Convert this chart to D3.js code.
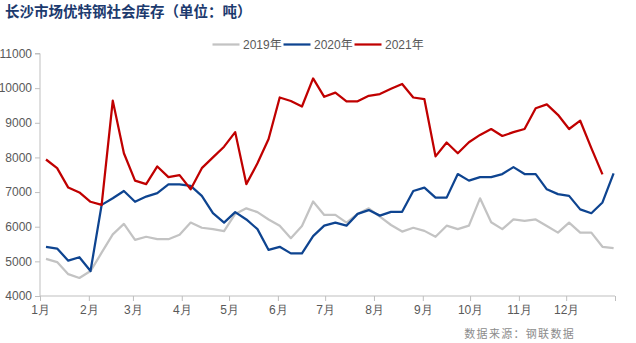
<!DOCTYPE html>
<html><head><meta charset="utf-8">
<script src="https://cdn.jsdelivr.net/npm/d3@7"></script>
<style>
html,body{margin:0;padding:0;background:#fff;}
svg{display:block;}
</style></head>
<body><svg id="c" width="636" height="343"></svg>
<script>
const title = "长沙市场优特钢社会库存（单位：吨）";
const source = "数据来源：钢联数据";
const seriesNames = ["2019年","2020年","2021年"];
const seriesColors = ["#c3c3c3","#0e4490","#c00000"];
const monthLabels = ["1月","2月","3月","4月","5月","6月","7月","8月","9月","10月","11月","12月"];
const yTicks = [4000,5000,6000,7000,8000,9000,10000,11000];

const s2019 = [5070,4980,4630,4520,4720,5250,5780,6080,5620,5710,5640,5640,5770,6120,5970,5930,5870,6370,6530,6420,6210,6030,5670,6020,6730,6340,6340,6120,6370,6530,6290,6050,5860,5970,5880,5710,6030,5930,6030,6820,6130,5930,6210,6170,6210,6020,5830,6120,5830,5830,5420,5380];
const s2020 = [5420,5370,5020,5120,4720,6630,6820,7030,6720,6870,6970,7220,7220,7180,6890,6390,6120,6420,6210,5930,5330,5420,5230,5230,5730,6030,6120,6030,6370,6480,6320,6430,6430,7030,7130,6840,6840,7520,7330,7430,7430,7520,7720,7520,7520,7080,6940,6890,6500,6390,6700,7540];
const s2021 = [7940,7690,7130,6990,6720,6630,9640,8120,7330,7230,7740,7430,7490,7080,7690,8000,8310,8730,7230,7830,8530,9730,9630,9470,10280,9750,9870,9620,9620,9780,9830,9980,10120,9730,9680,8030,8430,8120,8440,8650,8820,8620,8730,8820,9420,9530,9230,8820,9060,8270,7510];
const allSeries = [s2019, s2020, s2021];

const svg = d3.select("#c");
const pLeft = 40, pRight = 615, pTop = 53.5, pBottom = 296;

const xDate = d3.scaleTime().domain([new Date(2021,0,1), new Date(2022,0,1)]).range([pLeft, pRight]);
const xWeek = d3.scaleLinear().domain([0, 51]).range([46, 613.6]);
const y = d3.scaleLinear().domain([4000, 11000]).range([pBottom, pTop]);

svg.append("text").attr("x", 5).attr("y", 17)
  .attr("font-family", "'Noto Sans CJK SC', sans-serif").attr("font-weight", "bold")
  .attr("font-size", 14.5).attr("fill", "#1c3a6e").text(title);

const yAxis = d3.axisLeft(y).tickValues(yTicks).tickSize(5).tickPadding(3).tickFormat(d3.format("d"));
const gy = svg.append("g").attr("transform", `translate(${pLeft},0)`).call(yAxis);
gy.select(".domain").attr("stroke", "#bfbfbf").attr("d", `M-5,${y(11000)}H0V${pBottom}`);
gy.selectAll(".tick line").attr("stroke", "#bfbfbf");
gy.selectAll(".tick text").attr("fill", "#595959").attr("font-size", 12)
  .attr("font-family", "'Liberation Sans', Arial, sans-serif");

const monthDates = d3.range(12).map(m => new Date(2021, m, 1));
const tickDates = monthDates.concat([new Date(2022,0,1)]);
const xAxis = d3.axisBottom(xDate).tickValues(tickDates).tickSize(5).tickPadding(4)
  .tickFormat((d) => { const i = monthDates.findIndex(m => +m === +d); return i >= 0 ? monthLabels[i] : ""; });
const gx = svg.append("g").attr("transform", `translate(0,${pBottom})`).call(xAxis);
gx.select(".domain").attr("stroke", "#bfbfbf").attr("d", `M${pLeft},0H${pRight}`);
gx.selectAll(".tick line").attr("stroke", "#bfbfbf");
gx.selectAll(".tick text").attr("fill", "#595959").attr("font-size", 12)
  .attr("font-family", "'Liberation Sans', Arial, sans-serif");

const line = d3.line().x((d, i) => xWeek(i)).y(d => y(d));
allSeries.forEach((s, k) => {
  svg.append("path").datum(s).attr("d", line).attr("fill", "none")
    .attr("stroke", seriesColors[k]).attr("stroke-width", 2.25)
    .attr("stroke-linejoin", "round");
});

const legendX = [212.5, 283.5, 354.5];
seriesNames.forEach((n, k) => {
  const g = svg.append("g").attr("transform", `translate(${legendX[k]},44.5)`);
  g.append("line").attr("x1", 0).attr("x2", 27).attr("y1", 0).attr("y2", 0)
    .attr("stroke", seriesColors[k]).attr("stroke-width", 2.25);
  g.append("text").attr("x", 30.5).attr("y", 4.5).attr("font-size", 12).attr("fill", "#595959")
    .attr("font-family", "'Liberation Sans', 'Noto Sans CJK SC', sans-serif").text(n);
});

svg.append("text").attr("x", 575).attr("y", 338).attr("text-anchor", "end")
  .attr("font-size", 11).attr("letter-spacing", 1.3).attr("fill", "#8c8c8c")
  .attr("font-family", "'Noto Sans CJK SC', sans-serif").text(source);
</script></body></html>
